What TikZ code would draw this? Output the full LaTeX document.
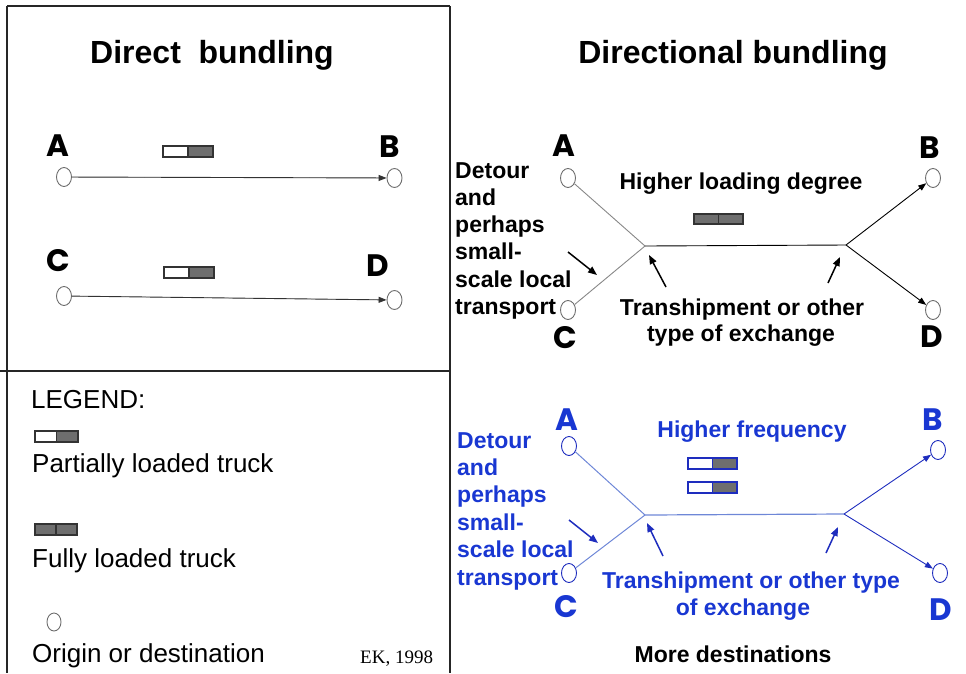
\documentclass[tikz,border=0pt]{standalone}
\usepackage{fontspec}
\setmainfont{Liberation Sans}
\newfontfamily\lblfont{Poppins}
\newfontfamily\serfont{Liberation Serif}
\usetikzlibrary{shapes.geometric,arrows.meta}
\definecolor{bluetext}{RGB}{25,55,210}
\definecolor{bluearrow}{RGB}{30,45,190}
\definecolor{bluelight}{RGB}{110,135,215}
\definecolor{truckgray}{RGB}{110,110,110}
\definecolor{circgray}{RGB}{110,110,110}
\definecolor{linegray}{RGB}{135,135,135}
\newcommand{\mytruck}[6]{% x1 y1 x2 y2 leftfill edgecolor
  \filldraw[fill=#5,draw=#6,line width=1.1pt] (#1,#2) rectangle ({(#1+#3)/2},#4);
  \filldraw[fill=truckgray,draw=#6,line width=1.1pt] ({(#1+#3)/2},#2) rectangle (#3,#4);}
\tikzset{
  title/.style={font=\fontsize{32}{36}\selectfont\bfseries},
  body/.style={font=\fontsize{23}{27.3}\selectfont\bfseries},
  leg/.style={font=\fontsize{26}{30}\selectfont, anchor=base west, inner sep=0pt},
  lbl/.style={font=\fontsize{31}{34}\selectfont\lblfont\bfseries, inner sep=0pt},
  endpt/.style={ellipse, draw=circgray, line width=0.9pt, minimum width=15pt, minimum height=19pt, inner sep=0pt},
  bendpt/.style={endpt, draw=bluearrow},
  conn/.style={line width=0.9pt, -{Triangle[length=8pt,width=6pt]}},
  border/.style={line width=1.2pt, draw=black!85},
  dline/.style={body, anchor=base west, inner sep=0pt},
}
\begin{document}
\begin{tikzpicture}[x=1pt,y=-1pt]
\useasboundingbox (0,0) rectangle (966,673);
% frame
\draw[border] (7,6) -- (450,6);
\draw[border] (7,6) -- (7,673);
\draw[border] (450,6) -- (450,673);
\draw[border] (0,371) -- (450,371);

% ---------- Direct bundling ----------
\node[title] (t1) at (212,55) {Direct\ \ bundling};
\node[lbl] (lA1) at (58,146) {A};
\node[lbl] (lB1) at (390,147) {B};
\node[lbl] (lC1) at (58,261) {C};
\node[lbl] (lD1) at (378,266) {D};
\node[endpt] (a1) at (64,177) {};
\node[endpt] (b1) at (394.5,178) {};
\node[endpt] (c1) at (64,296) {};
\node[endpt] (d1) at (394.5,300) {};
\draw[conn, draw=black!80, fill=black] (a1) -- (b1);
\draw[conn, draw=black!80, fill=black] (c1) -- (d1);
\mytruck{163}{146}{213}{157}{white}{black!80}
\mytruck{164}{267}{214}{278}{white}{black!80}

% ---------- Legend ----------
\node[leg] (lg) at (31,408) {LEGEND:};
\mytruck{35}{431}{78}{442}{white}{black!80}
\node[leg] (lg1) at (32,472) {Partially loaded truck};
\mytruck{35}{524}{77}{535}{truckgray}{black!80}
\node[leg] (lg2) at (32,567) {Fully loaded truck};
\node[endpt, minimum width=14pt, minimum height=18pt] (lgc) at (54,622) {};
\node[leg] (lg3) at (32,662) {Origin or destination};
\node[anchor=base west, inner sep=0pt, font=\fontsize{19}{22}\selectfont\serfont] (ek) at (360,663) {EK, 1998};

% ---------- Directional bundling ----------
\node[title] (t2) at (733,55) {Directional bundling};
\node[lbl] (lA2) at (564,146) {A};
\node[lbl] (lB2) at (930,148) {B};
\node[lbl] (lC2) at (565,338) {C};
\node[lbl] (lD2) at (932,337) {D};
\node[endpt] (a2) at (568,178) {};
\node[endpt] (b2) at (933,178) {};
\node[endpt] (c2) at (568,310) {};
\node[endpt] (d2) at (933,310) {};
\coordinate (jL2) at (645,246);
\coordinate (jR2) at (846,245);
\draw[line width=0.9pt, linegray] (a2) -- (jL2);
\draw[line width=0.9pt, linegray] (c2) -- (jL2);
\draw[line width=0.9pt, black] (jL2) -- (jR2);
\draw[conn, black] (jR2) -- (b2);
\draw[conn, black] (jR2) -- (d2);
\mytruck{694}{214}{743}{224}{truckgray}{black!80}
\node[body, anchor=base] (hl) at (741,189) {Higher loading degree};
\node[dline] (dt2a) at (455,178) {Detour};
\node[dline] (dt2b) at (455,205.3) {and};
\node[dline] (dt2c) at (455,232.6) {perhaps};
\node[dline] (dt2d) at (455,259.9) {small-};
\node[dline] (dt2e) at (455,287.2) {scale local};
\node[dline] (dt2f) at (455,314.5) {transport};
\coordinate (p1s) at (568,252); \coordinate (p1e) at (597,275);
\coordinate (p2s) at (666,287); \coordinate (p2e) at (649,255);
\coordinate (p3s) at (828,283); \coordinate (p3e) at (840,257);
\draw[line width=1.5pt, -{Triangle[length=9pt,width=7pt]}] (p1s) -- (p1e);
\draw[line width=1.5pt, -{Triangle[length=9pt,width=7pt]}] (p2s) -- (p2e);
\draw[line width=1.5pt, -{Triangle[length=9pt,width=7pt]}] (p3s) -- (p3e);
\node[body, anchor=base] (tr1) at (742,315) {Transhipment or other};
\node[body, anchor=base] (tr2) at (741,341) {type of exchange};

% ---------- More destinations ----------
\node[lbl, text=bluetext] (lA3) at (567,420) {A};
\node[lbl, text=bluetext] (lB3) at (933,420) {B};
\node[lbl, text=bluetext] (lC3) at (566,607) {C};
\node[lbl, text=bluetext] (lD3) at (941,610) {D};
\node[bendpt] (a3) at (569,446) {};
\node[bendpt] (b3) at (938,450) {};
\node[bendpt] (c3) at (569,573) {};
\node[bendpt] (d3) at (940,573) {};
\coordinate (jL3) at (645,515);
\coordinate (jR3) at (844,514);
\draw[line width=1pt, bluelight] (a3) -- (jL3);
\draw[line width=1pt, bluelight] (c3) -- (jL3);
\draw[line width=1.2pt, bluelight] (jL3) -- (jR3);
\draw[conn, bluearrow] (jR3) -- (b3);
\draw[conn, bluearrow] (jR3) -- (d3);
\mytruck{688}{458}{737}{469}{white}{bluearrow}
\mytruck{688}{482}{737}{493}{white}{bluearrow}
\node[body, text=bluetext, anchor=base] (hf) at (752,437) {Higher frequency};
\node[dline, text=bluetext] (dt3a) at (457,448) {Detour};
\node[dline, text=bluetext] (dt3b) at (457,475.4) {and};
\node[dline, text=bluetext] (dt3c) at (457,502.8) {perhaps};
\node[dline, text=bluetext] (dt3d) at (457,530.2) {small-};
\node[dline, text=bluetext] (dt3e) at (457,557.6) {scale local};
\node[dline, text=bluetext] (dt3f) at (457,585) {transport};
\coordinate (q1s) at (569,520); \coordinate (q1e) at (598,543);
\coordinate (q2s) at (663,556); \coordinate (q2e) at (647,523);
\coordinate (q3s) at (826,553); \coordinate (q3e) at (838,527);
\draw[line width=1.5pt, bluearrow, -{Triangle[length=9pt,width=7pt]}] (q1s) -- (q1e);
\draw[line width=1.5pt, bluearrow, -{Triangle[length=9pt,width=7pt]}] (q2s) -- (q2e);
\draw[line width=1.5pt, bluearrow, -{Triangle[length=9pt,width=7pt]}] (q3s) -- (q3e);
\node[body, text=bluetext, anchor=base] (tr3) at (751,588) {Transhipment or other type};
\node[body, text=bluetext, anchor=base] (tr4) at (743,615) {of exchange};
\node[body, anchor=base] (md) at (733,662) {More destinations};
\end{tikzpicture}
\end{document}
